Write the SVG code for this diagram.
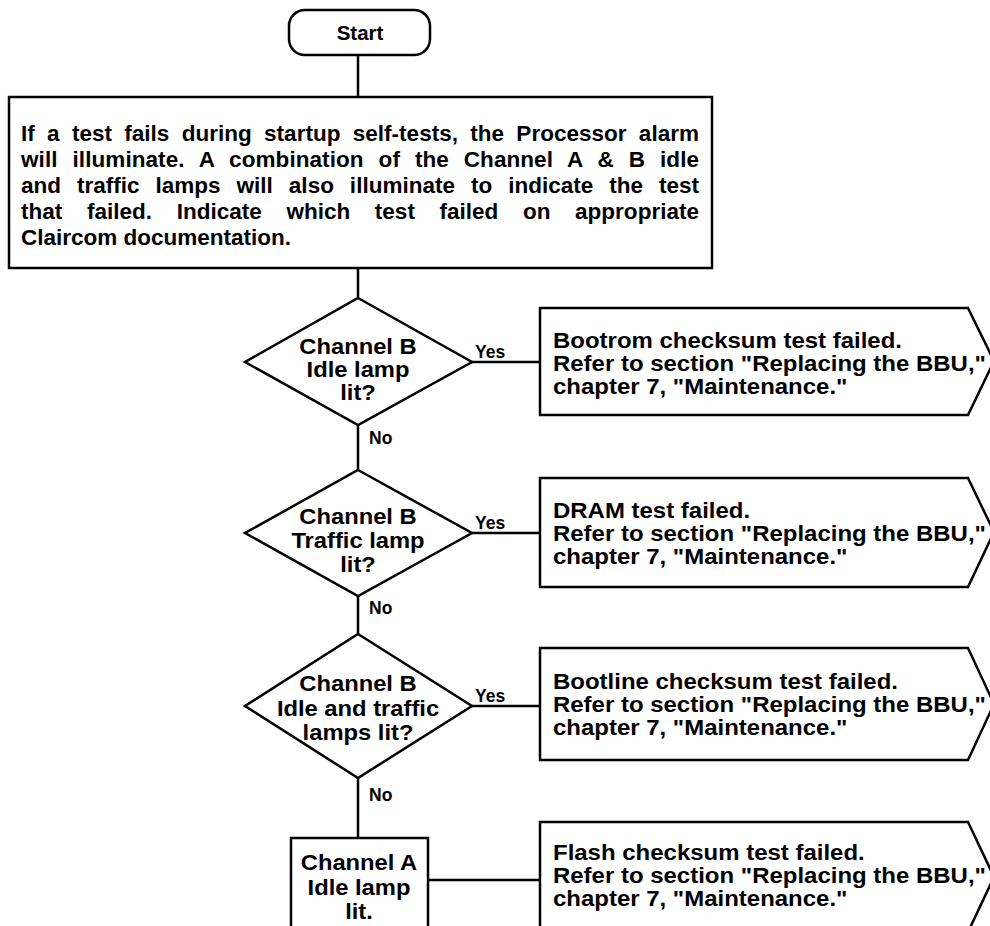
<svg xmlns="http://www.w3.org/2000/svg" width="990" height="926" viewBox="0 0 990 926">
  <style>
    .shape { fill: #fff; stroke: #000; stroke-width: 2.5; stroke-linejoin: miter; }
    .wire { fill: none; stroke: #000; stroke-width: 2.5; }
    text { font-family: "Liberation Sans", Arial, sans-serif; font-weight: bold; fill: #000; }
    .body { font-size: 22px; }
    .para { font-size: 22.5px; }
    .mid { text-anchor: middle; }
    .tag { font-size: 17.5px; }
  </style>

  <!-- connectors -->
  <g id="connectors">
    <path class="wire" d="M358 55 V97"/>
    <path class="wire" d="M358 268 V298"/>
    <path class="wire" d="M358 425 V470"/>
    <path class="wire" d="M358 596 V634"/>
    <path class="wire" d="M358 778 V838"/>
    <path class="wire" d="M472 362 H540"/>
    <path class="wire" d="M472 533 H540"/>
    <path class="wire" d="M472 706 H540"/>
    <path class="wire" d="M428 880 H540"/>
    <text class="tag" x="475" y="358">Yes</text>
    <text class="tag" x="475" y="529">Yes</text>
    <text class="tag" x="475" y="702">Yes</text>
    <text class="tag" x="369" y="444">No</text>
    <text class="tag" x="369" y="614">No</text>
    <text class="tag" x="369" y="801">No</text>
  </g>

  <g id="start">
    <rect class="shape" x="289" y="10" width="141" height="45" rx="16"/>
    <text class="mid" x="360" y="40" font-size="20.5">Start</text>
  </g>

  <g id="intro">
    <rect class="shape" x="9" y="97" width="703" height="171"/>
    <text class="para" x="21" y="141" word-spacing="6" textLength="678" lengthAdjust="spacing">If a test fails during startup self-tests, the Processor alarm</text>
    <text class="para" x="21" y="167" word-spacing="8.6" textLength="678" lengthAdjust="spacing">will illuminate. A combination of the Channel A &amp; B idle</text>
    <text class="para" x="21" y="193" word-spacing="9.7" textLength="678" lengthAdjust="spacing">and traffic lamps will also illuminate to indicate the test</text>
    <text class="para" x="21" y="219" word-spacing="18.3" textLength="678" lengthAdjust="spacing">that failed. Indicate which test failed on appropriate</text>
    <text class="para" x="21" y="245">Claircom documentation.</text>
  </g>

  <g id="check-b-idle">
    <polygon class="shape" points="358,298 472,362 358,425 245,362"/>
    <g transform="matrix(1.08,0,0,1,-28.64,0)">
      <text class="body mid" x="358" y="354">Channel B</text>
      <text class="body mid" x="358" y="377">Idle lamp</text>
      <text class="body mid" x="358" y="400">lit?</text>
    </g>
  </g>

  <g id="check-b-traffic">
    <polygon class="shape" points="358,470 472,533 358,596 245,533"/>
    <g transform="matrix(1.08,0,0,1,-28.64,0)">
      <text class="body mid" x="358" y="524">Channel B</text>
      <text class="body mid" x="358" y="548">Traffic lamp</text>
      <text class="body mid" x="358" y="572">lit?</text>
    </g>
  </g>

  <g id="check-b-both">
    <polygon class="shape" points="358,634 472,706 358,778 245,706"/>
    <g transform="matrix(1.08,0,0,1,-28.64,0)">
      <text class="body mid" x="358" y="691">Channel B</text>
      <text class="body mid" x="358" y="716">Idle and traffic</text>
      <text class="body mid" x="358" y="740">lamps lit?</text>
    </g>
  </g>

  <g id="check-a-idle">
    <rect class="shape" x="291" y="838" width="137" height="110"/>
    <g transform="matrix(1.08,0,0,1,-28.72,0)">
      <text class="body mid" x="359" y="870">Channel A</text>
      <text class="body mid" x="359" y="895">Idle lamp</text>
      <text class="body mid" x="359" y="919">lit.</text>
    </g>
  </g>

  <!-- result boxes: lettering widened a little about the left margin x=553 -->
  <g id="fail-bootrom">
    <polygon class="shape" points="540,308 968,308 994,361 968,415 540,415"/>
    <g transform="matrix(1.09,0,0,1,-49.77,0)">
      <text class="body" x="553" y="348">Bootrom checksum test failed.</text>
      <text class="body" x="553" y="371">Refer to section "Replacing the BBU,"</text>
      <text class="body" x="553" y="394">chapter 7, "Maintenance."</text>
    </g>
  </g>

  <g id="fail-dram">
    <polygon class="shape" points="540,478 968,478 994,532 968,587 540,587"/>
    <g transform="matrix(1.09,0,0,1,-49.77,0)">
      <text class="body" x="553" y="518">DRAM test failed.</text>
      <text class="body" x="553" y="541">Refer to section "Replacing the BBU,"</text>
      <text class="body" x="553" y="564">chapter 7, "Maintenance."</text>
    </g>
  </g>

  <g id="fail-bootline">
    <polygon class="shape" points="540,648 968,648 994,704 968,760 540,760"/>
    <g transform="matrix(1.09,0,0,1,-49.77,0)">
      <text class="body" x="553" y="689">Bootline checksum test failed.</text>
      <text class="body" x="553" y="712">Refer to section "Replacing the BBU,"</text>
      <text class="body" x="553" y="735">chapter 7, "Maintenance."</text>
    </g>
  </g>

  <g id="fail-flash">
    <polygon class="shape" points="540,822 968,822 994,877 968,932 540,932"/>
    <g transform="matrix(1.09,0,0,1,-49.77,0)">
      <text class="body" x="553" y="860">Flash checksum test failed.</text>
      <text class="body" x="553" y="883">Refer to section "Replacing the BBU,"</text>
      <text class="body" x="553" y="906">chapter 7, "Maintenance."</text>
    </g>
  </g>
</svg>
